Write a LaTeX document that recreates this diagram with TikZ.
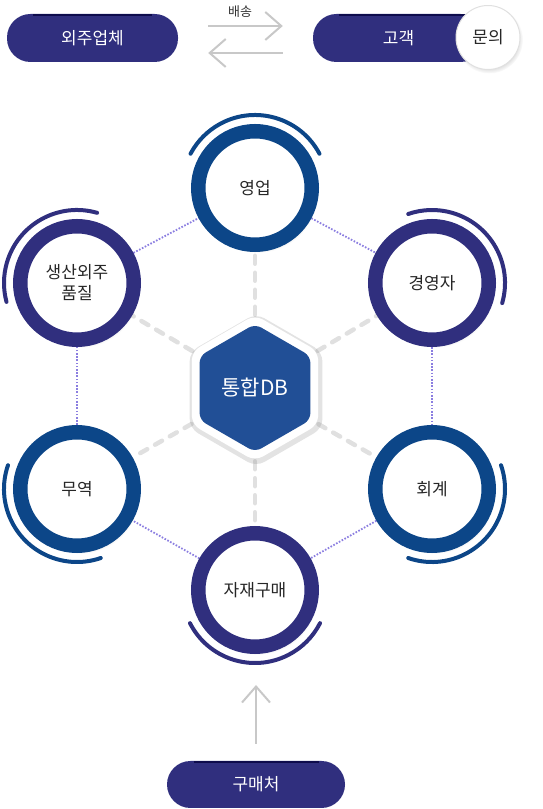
\documentclass[tikz,border=0pt]{standalone}
\usepackage{fontspec}
\setmainfont{Noto Sans CJK KR}
\usetikzlibrary{shapes.geometric,shadows,arrows.meta,backgrounds}
\definecolor{ringblue}{HTML}{0C4688}
\definecolor{ringnavy}{HTML}{302F7E}
\definecolor{hexblue}{HTML}{214F96}
\definecolor{lilac}{HTML}{8B7EE0}
\definecolor{dashgray}{HTML}{E0E0E0}
\definecolor{arrowgray}{HTML}{C8C8C8}
\definecolor{barnavy}{HTML}{0E0C4C}

\begin{document}
\begin{tikzpicture}[x=1pt,y=1pt]
\tikzstyle{ring}=[circle,draw,fill=white,line width=14.5pt,minimum size=113.5pt,inner sep=0pt,align=center,text=black!85,
  font=\fontsize{17}{21}\selectfont,circular drop shadow={shadow xshift=3pt,shadow yshift=-5pt,shadow scale=1.05,opacity=.3}]
\tikzstyle{arcline}=[line width=4pt,line cap=round]
\tikzstyle{pill}=[rectangle,rounded corners=23.5pt,fill=ringnavy,text=white,minimum width=171pt,minimum height=48pt,
  font=\fontsize{17}{20}\selectfont]
\tikzstyle{topbar}=[barnavy,line width=2pt]
\tikzstyle{flow}=[arrowgray,line width=2pt,-{Straight Barb[length=16pt,width=28pt]}]
\tikzstyle{dotline}=[lilac,line width=1.8pt,dash pattern=on 1.6pt off 1.6pt]
\tikzstyle{dashline}=[dashgray,line width=4.5pt,line cap=round,dash pattern=on 8pt off 9pt]
\useasboundingbox (0,0) rectangle (543,809);

% outsourcing / customer
\node[pill] (vendor) at (92.5,771) {외주업체};
\node[pill] (client) at (398.5,771) {고객};
\draw[topbar] ([xshift=-59.5pt,yshift=-1pt]vendor.north) -- ([xshift=59.5pt,yshift=-1pt]vendor.north);
\draw[topbar] ([xshift=-60pt,yshift=-1pt]client.north) -- ([xshift=68pt,yshift=-1pt]client.north);
\node[circle,fill=white,draw=black!12,line width=1pt,minimum size=64pt,inner sep=0pt,text=black!85,
  font=\fontsize{17}{19}\selectfont,circular drop shadow={shadow xshift=1pt,shadow yshift=-2pt,shadow scale=1.06,opacity=.25}]
  (inquiry) at (488,771.5) {문의};
\draw[flow,shorten <=30pt,shorten >=30pt] ([yshift=12pt]vendor.east) -- ([yshift=12pt]client.west);
\draw[flow,shorten <=30pt,shorten >=30pt] ([yshift=-15pt]client.west) -- ([yshift=-15pt]vendor.east);
\node[text=black!80,font=\fontsize{13}{15}\selectfont] (ship) at (240,797) {배송};

% ring nodes
\node[ring,draw=ringblue] (sales) at (255,621) {영업};
\node[ring,draw=ringnavy] (mgmt) at (432,526) {경영자};
\node[ring,draw=ringblue] (acct) at (432,320) {회계};
\node[ring,draw=ringnavy] (buy) at (255,219) {자재구매};
\node[ring,draw=ringblue] (trade) at (77,320) {무역};
\node[ring,draw=ringnavy] (qc) at (77,526) {생산외주\\품질};

\draw[arcline,ringblue] (sales.center) ++(28:73) arc[start angle=28,end angle=152,radius=73];
\draw[arcline,ringnavy] (mgmt.center) ++(-16:73) arc[start angle=-16,end angle=109,radius=73];
\draw[arcline,ringblue] (acct.center) ++(-109:73) arc[start angle=-109,end angle=19,radius=73];
\draw[arcline,ringnavy] (buy.center) ++(207:73) arc[start angle=207,end angle=333,radius=73];
\draw[arcline,ringblue] (trade.center) ++(161:73) arc[start angle=161,end angle=289,radius=73];
\draw[arcline,ringnavy] (qc.center) ++(74:73) arc[start angle=74,end angle=195,radius=73];

% center hexagon
\node[regular polygon,regular polygon sides=6,shape border rotate=30,minimum size=146pt,rounded corners=9pt,
  fill=white,drop shadow={shadow xshift=1pt,shadow yshift=-2pt,shadow scale=1.05,opacity=.22}] (dbframe) at (255,421) {};
\node[regular polygon,regular polygon sides=6,shape border rotate=30,minimum size=128pt,rounded corners=7pt,
  fill=hexblue,text=white,font=\fontsize{21}{24}\selectfont] (db) at (255,421) {통합DB};

\begin{scope}[on background layer]
\foreach \a/\b in {sales/mgmt,mgmt/acct,acct/buy,buy/trade,trade/qc,qc/sales}
  \draw[dotline] (\a) -- (\b);
\foreach \n in {sales,mgmt,acct,buy,trade,qc}
  \draw[dashline] (dbframe) -- (\n);
\end{scope}

% supplier
\node[pill,minimum width=178pt,minimum height=47pt] (supplier) at (256,24.5) {구매처};
\draw[topbar] ([xshift=-62.5pt,yshift=-1pt]supplier.north) -- ([xshift=62.5pt,yshift=-1pt]supplier.north);
\draw[flow,shorten <=17pt,shorten >=31pt] (supplier.north) -- (supplier.north |- buy.south);
\end{tikzpicture}
\end{document}
